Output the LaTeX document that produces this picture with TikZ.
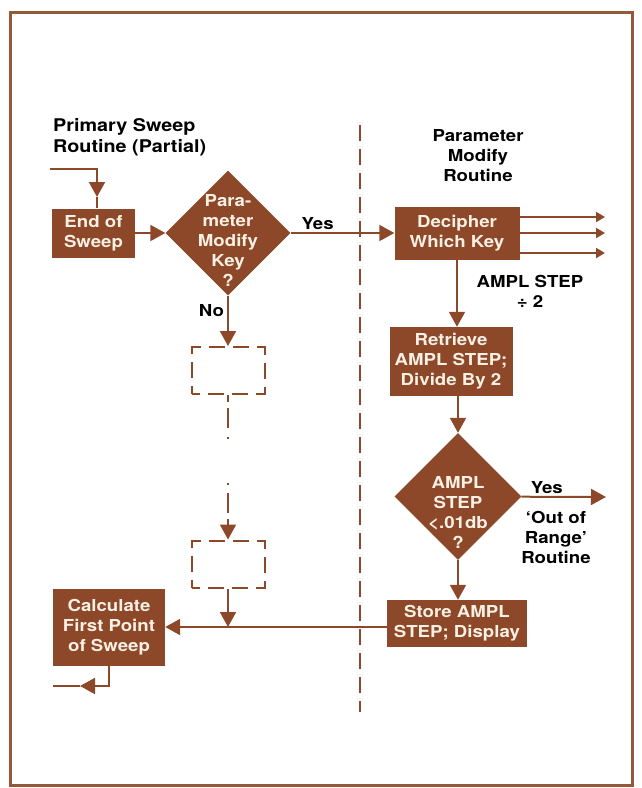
\documentclass[tikz,border=0pt]{standalone}
\usepackage{fontspec}
\setmainfont{TeX Gyre Heros}[FakeStretch=1.13]
\usepackage{tikz}
\usepackage{xcolor}
\usetikzlibrary{arrows.meta, shapes.geometric, calc, positioning}
\definecolor{hpbrown}{RGB}{140,72,40}
\definecolor{hpframe}{RGB}{150,88,58}
\definecolor{hpcream}{RGB}{250,240,228}
\tikzset{
    proc/.style={fill=hpbrown, text=hpcream, align=center, inner sep=0pt},
    decision/.style={diamond, aspect=1, fill=hpbrown, inner sep=0pt, minimum size=125pt},
    ghost/.style={draw=hpbrown, line width=2pt, dash pattern=on 16pt off 8pt, dash phase=8pt, minimum width=73pt, minimum height=47pt, inner sep=0pt},
    wire/.style={draw=hpbrown, line width=2pt},
    flow/.style={wire, -{Triangle[width=16pt,length=15pt]}},
    flowsmall/.style={wire, -{Triangle[width=10pt,length=9pt]}},
    caption/.style={align=center, text=black},
    intext/.style={align=center, text=hpcream}
}

\begin{document}
\begin{tikzpicture}[x=1pt, y=-1pt, font=\bfseries\fontsize{16.5}{20}\selectfont]
                        \useasboundingbox (0,0) rectangle (641,788);
                        \draw[hpframe, line width=3pt] (10,12) rectangle (632,785);
                        \draw[hpbrown, line width=2pt, dash pattern=on 16pt off 8pt] (360,125) -- (360,712);

                        \node[caption, align=left, anchor=west, inner sep=0pt, font=\bfseries\fontsize{17.5}{21.5}\selectfont] (primary) at (53,137) {Primary Sweep\\Routine (Partial)};
                        \node[caption] (pmr) at (478,156) {Parameter\\Modify\\Routine};

                        \node[proc, minimum width=83pt, minimum height=49pt] (endsweep) at (93.5,233) {End of\\Sweep};
                        \node[decision] (key) at (228,233) {};
                        \node[intext] (keytxt) at (228,240) {Para-\\meter\\Modify\\Key\\?};
                        \node[proc, minimum width=125pt, minimum height=53pt] (decipher) at (457,233) {Decipher\\Which Key};
                        \node[proc, minimum width=123pt, minimum height=69pt] (retrieve) at (451,361.5) {Retrieve\\AMPL STEP;\\Divide By 2};
                        \node[decision, minimum size=127pt] (check) at (458,496.5) {};
                        \node[intext] (checktxt) at (458,512) {AMPL\\STEP\\<.01db\\?};
                        \node[proc, minimum width=140pt, minimum height=47pt] (store) at (457,623.5) {Store AMPL\\STEP; Display};
                        \node[proc, minimum width=112pt, minimum height=77pt] (calc) at (109,627) {Calculate\\First Point\\of Sweep};
                        \node[ghost] (ghostA) at (228,370.5) {};
                        \node[ghost] (ghostB) at (228,564) {};
                        \node[caption] (ampl) at (530,291) {AMPL STEP\\÷ 2};
                        \node[caption] (outrange) at (556,537) {`Out of\\Range'\\Routine};

                        \coordinate (entry) at (50,169);
                        \coordinate (entrytip) at (97,197);
                        \coordinate (exit) at (53,686);
                        \coordinate (exittip) at (80,686);
                        \coordinate (dotsA) at (228,440);
                        \coordinate (dotsB) at (228,483);
                        \coordinate (dotsC) at (228,519);
                        \coordinate (outyes) at (606,497);
                        \foreach \k/\y in {1/217, 2/233, 3/253}
                            \coordinate (out\k) at (605,\y);

                        \draw[flow] (entry) -| (entrytip);
                        \draw[wire] (entrytip) -- (entrytip |- endsweep.north);
                        \draw
                        (endsweep) edge[flow] (key)
                        (key) edge[flow] node[pos=0.26, above, inner sep=2pt, text=black] (yesA) {Yes} (decipher)
                        (key) edge[flow] node[pos=0.3, left, inner sep=3pt, text=black] (no) {No} (ghostA);
                        \draw[wire, dash pattern=on 7pt off 6pt on 20pt off 9pt on 2pt off 20pt] (ghostA) -- (dotsA);
                        \draw[wire, dash pattern=on 2pt off 8pt on 20pt off 20pt] (dotsB) -- (dotsC);
                        \draw[flow] (dotsC) -- (ghostB);
                        \draw[flow] (ghostB) -- (ghostB |- calc.east);
                        \draw[flow] (calc.east -| store.west) -- (calc.east);
                        \draw[flow] (calc) |- (exittip);
                        \draw[wire] (exittip) -- (exit);

                        \foreach \k in {1,2,3}
                            \draw[flowsmall] (decipher.east |- out\k) -- (out\k);
                        \draw[flow] (decipher) -- (decipher |- retrieve.north);
                        \draw[flow] (check |- retrieve.south) -- (check);
                        \draw[flow] (check) -- node[pos=0.3, above, inner sep=2pt, text=black] (yesB) {Yes} (outyes);
                        \draw[flow] (check) -- (check |- store.north);
                    \end{tikzpicture}
\end{document}
